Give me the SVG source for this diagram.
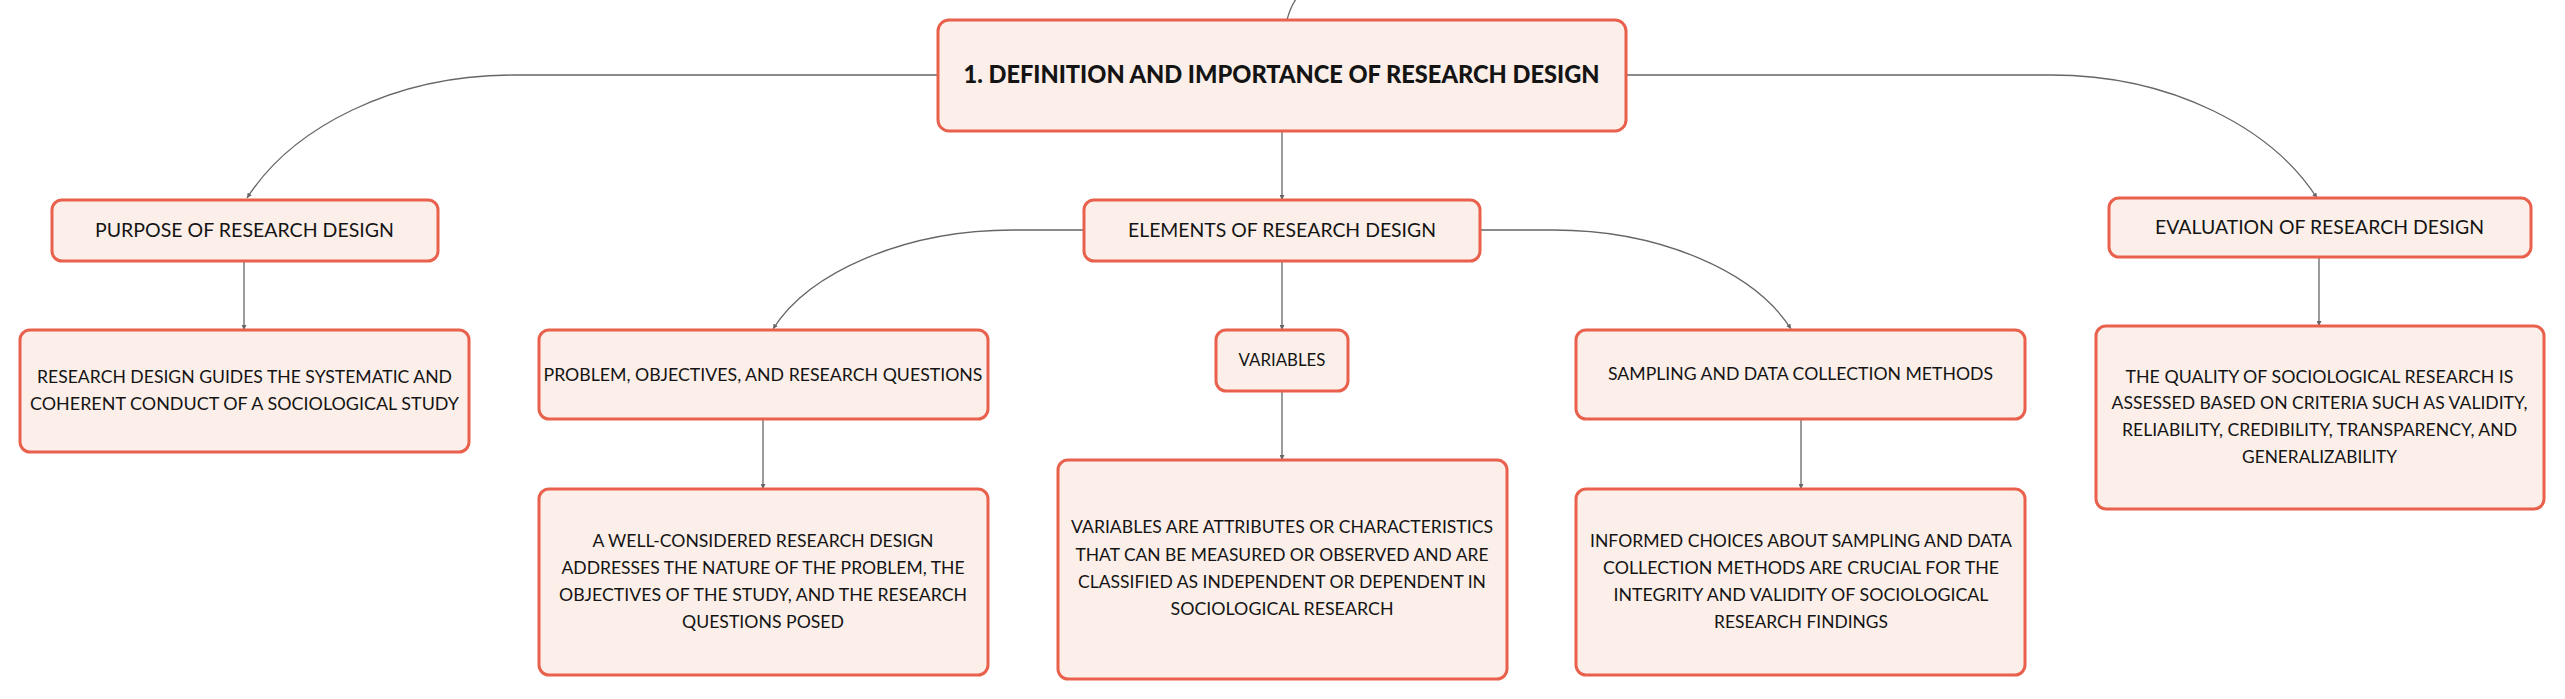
<svg xmlns="http://www.w3.org/2000/svg" width="2565" height="699" viewBox="0 0 2565 699">
  <style>
    .box { fill: #fcefe9; stroke: #e9614c; stroke-width: 3; }
    .t { font-family: Lato, "Noto Sans", "Liberation Sans", sans-serif; fill: #141414; text-anchor: middle; }
    .title { font-size: 25px; font-weight: 900; }
    .l2 { font-size: 20px; }
    .l3 { font-size: 18px; }
    .body { font-size: 18px; }
    .conn { fill: none; stroke: #666666; stroke-width: 1.3; }
  </style>
  <defs>
    <marker id="arr" viewBox="0 0 6 6" refX="6" refY="3" markerWidth="5" markerHeight="5" markerUnits="userSpaceOnUse" orient="auto">
      <path d="M0,0 L6,3 L0,6 Z" fill="#666666"/>
    </marker>
  </defs>
  <rect width="2565" height="699" fill="#ffffff"/>

  <g id="connectors">
    <path class="conn" d="M 1287 20 Q 1290 8 1296 -1"/>
    <path class="conn" d="M 938 75 L 513 75 C 393 75 292 128 247 198" marker-end="url(#arr)"/>
    <path class="conn" d="M 1626 75 L 2051 75 C 2171 75 2272 128 2317 198" marker-end="url(#arr)"/>
    <path class="conn" d="M 1282 131 L 1282 200" marker-end="url(#arr)"/>
    <path class="conn" d="M 1083 230 L 1013 230 C 905 230 809 272 773 329" marker-end="url(#arr)"/>
    <path class="conn" d="M 1282 261 L 1282 330" marker-end="url(#arr)"/>
    <path class="conn" d="M 1480 230 L 1553 230 C 1661 230 1755 272 1791 329" marker-end="url(#arr)"/>
    <path class="conn" d="M 244 261 L 244 330" marker-end="url(#arr)"/>
    <path class="conn" d="M 763 419 L 763 489" marker-end="url(#arr)"/>
    <path class="conn" d="M 1282 391 L 1282 460" marker-end="url(#arr)"/>
    <path class="conn" d="M 1801 419 L 1801 489" marker-end="url(#arr)"/>
    <path class="conn" d="M 2319 257 L 2319 326" marker-end="url(#arr)"/>
  </g>

  <g id="title">
    <rect class="box" x="938" y="20" width="688" height="111" rx="11"/>
    <text class="t title" x="1281.5" y="83" textLength="636" lengthAdjust="spacingAndGlyphs">1. DEFINITION AND IMPORTANCE OF RESEARCH DESIGN</text>
  </g>

  <g id="purpose">
    <rect class="box" x="52" y="200" width="386" height="61" rx="10"/>
    <text class="t l2" x="244.5" y="237" textLength="299" lengthAdjust="spacingAndGlyphs">PURPOSE OF RESEARCH DESIGN</text>
  </g>

  <g id="purpose-desc">
    <rect class="box" x="20" y="330" width="449" height="122" rx="10"/>
    <text class="t body" x="244.5" y="383" textLength="415" lengthAdjust="spacingAndGlyphs">RESEARCH DESIGN GUIDES THE SYSTEMATIC AND</text>
    <text class="t body" x="244.5" y="410" textLength="429" lengthAdjust="spacingAndGlyphs">COHERENT CONDUCT OF A SOCIOLOGICAL STUDY</text>
  </g>

  <g id="elements">
    <rect class="box" x="1084" y="200" width="396" height="61" rx="10"/>
    <text class="t l2" x="1282" y="237" textLength="308" lengthAdjust="spacingAndGlyphs">ELEMENTS OF RESEARCH DESIGN</text>
  </g>

  <g id="evaluation">
    <rect class="box" x="2109" y="198" width="422" height="59" rx="10"/>
    <text class="t l2" x="2319.5" y="234" textLength="329" lengthAdjust="spacingAndGlyphs">EVALUATION OF RESEARCH DESIGN</text>
  </g>

  <g id="quality">
    <rect class="box" x="2096" y="326" width="448" height="183" rx="10"/>
    <text class="t body" x="2319.5" y="383" textLength="388" lengthAdjust="spacingAndGlyphs">THE QUALITY OF SOCIOLOGICAL RESEARCH IS</text>
    <text class="t body" x="2319.5" y="409" textLength="416" lengthAdjust="spacingAndGlyphs">ASSESSED BASED ON CRITERIA SUCH AS VALIDITY,</text>
    <text class="t body" x="2319.5" y="436" textLength="395" lengthAdjust="spacingAndGlyphs">RELIABILITY, CREDIBILITY, TRANSPARENCY, AND</text>
    <text class="t body" x="2319.5" y="463" textLength="155" lengthAdjust="spacingAndGlyphs">GENERALIZABILITY</text>
  </g>

  <g id="problem">
    <rect class="box" x="539" y="330" width="449" height="89" rx="10"/>
    <text class="t l3" x="763" y="381" textLength="439" lengthAdjust="spacingAndGlyphs">PROBLEM, OBJECTIVES, AND RESEARCH QUESTIONS</text>
  </g>

  <g id="problem-desc">
    <rect class="box" x="539" y="489" width="449" height="186" rx="10"/>
    <text class="t body" x="763" y="547" textLength="341" lengthAdjust="spacingAndGlyphs">A WELL-CONSIDERED RESEARCH DESIGN</text>
    <text class="t body" x="763" y="574" textLength="403" lengthAdjust="spacingAndGlyphs">ADDRESSES THE NATURE OF THE PROBLEM, THE</text>
    <text class="t body" x="763" y="601" textLength="408" lengthAdjust="spacingAndGlyphs">OBJECTIVES OF THE STUDY, AND THE RESEARCH</text>
    <text class="t body" x="763" y="628" textLength="162" lengthAdjust="spacingAndGlyphs">QUESTIONS POSED</text>
  </g>

  <g id="variables">
    <rect class="box" x="1216" y="330" width="132" height="61" rx="10"/>
    <text class="t l3" x="1282" y="366" textLength="87" lengthAdjust="spacingAndGlyphs">VARIABLES</text>
  </g>

  <g id="variables-desc">
    <rect class="box" x="1058" y="460" width="449" height="219" rx="10"/>
    <text class="t body" x="1282" y="533" textLength="422" lengthAdjust="spacingAndGlyphs">VARIABLES ARE ATTRIBUTES OR CHARACTERISTICS</text>
    <text class="t body" x="1282" y="561" textLength="413" lengthAdjust="spacingAndGlyphs">THAT CAN BE MEASURED OR OBSERVED AND ARE</text>
    <text class="t body" x="1282" y="588" textLength="408" lengthAdjust="spacingAndGlyphs">CLASSIFIED AS INDEPENDENT OR DEPENDENT IN</text>
    <text class="t body" x="1282" y="615" textLength="223" lengthAdjust="spacingAndGlyphs">SOCIOLOGICAL RESEARCH</text>
  </g>

  <g id="sampling">
    <rect class="box" x="1576" y="330" width="449" height="89" rx="10"/>
    <text class="t l3" x="1800.5" y="380" textLength="385" lengthAdjust="spacingAndGlyphs">SAMPLING AND DATA COLLECTION METHODS</text>
  </g>

  <g id="sampling-desc">
    <rect class="box" x="1576" y="489" width="449" height="186" rx="10"/>
    <text class="t body" x="1801" y="547" textLength="422" lengthAdjust="spacingAndGlyphs">INFORMED CHOICES ABOUT SAMPLING AND DATA</text>
    <text class="t body" x="1801" y="574" textLength="396" lengthAdjust="spacingAndGlyphs">COLLECTION METHODS ARE CRUCIAL FOR THE</text>
    <text class="t body" x="1801" y="601" textLength="375" lengthAdjust="spacingAndGlyphs">INTEGRITY AND VALIDITY OF SOCIOLOGICAL</text>
    <text class="t body" x="1801" y="628" textLength="174" lengthAdjust="spacingAndGlyphs">RESEARCH FINDINGS</text>
  </g>
</svg>
